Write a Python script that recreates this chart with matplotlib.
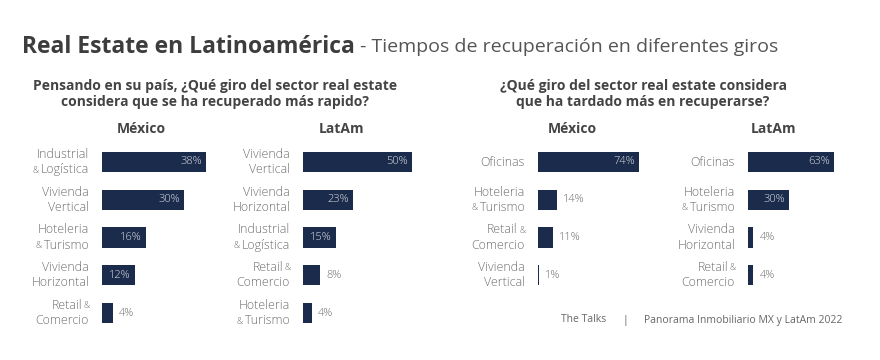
import matplotlib
matplotlib.use("Agg")
import matplotlib.pyplot as plt

plt.rcParams['font.family'] = ['Open Sans', 'DejaVu Sans']

# ---------------- data ----------------
title_main = "Real Estate en Latinoamérica"
title_sub = " - Tiempos de recuperación en diferentes giros"
q1 = "Pensando en su país, ¿Qué giro del sector real estate\nconsidera que se ha recuperado más rapido?"
q2 = "¿Qué giro del sector real estate considera\nque ha tardado más en recuperarse?"
col_mx = "México"
col_la = "LatAm"

fast_mx_labels = ["Industrial\n& Logística", "Vivienda\nVertical", "Hoteleria\n& Turismo",
                  "Vivienda\nHorizontal", "Retail &\nComercio"]
fast_mx_values = [38, 30, 16, 12, 4]

fast_la_labels = ["Vivienda\nVertical", "Vivienda\nHorizontal", "Industrial\n& Logística",
                  "Retail &\nComercio", "Hoteleria\n& Turismo"]
fast_la_values = [50, 23, 15, 8, 4]

slow_mx_labels = ["Oficinas", "Hoteleria\n& Turismo", "Retail &\nComercio", "Vivienda\nVertical"]
slow_mx_values = [74, 14, 11, 1]

slow_la_labels = ["Oficinas", "Hoteleria\n& Turismo", "Vivienda\nHorizontal", "Retail &\nComercio"]
slow_la_values = [63, 30, 4, 4]

footer_left = "The Talks"
footer_right = "Panorama Inmobiliario MX y LatAm 2022"

# ---------------- style ----------------
W, H = 880, 360
BAR = "#1b2b4b"
LABEL_C = "#6f6f6f"
IN_C = "#dde1e8"
OUT_C = "#6a6a6a"
DARK = "#444444"
LFS = 8.9
AMP_FS = 6.2

fig = plt.figure(figsize=(W / 100, H / 100), dpi=100)
fig.patch.set_facecolor("white")
renderer = fig.canvas.get_renderer()


def fx(px):
    return px / W


def fy(py):
    return 1 - py / H


ROW = 37.75
LINE = 15.5


def text_width(s, fs):
    t = fig.text(0, 0, s, fontsize=fs, fontweight="light")
    w = t.get_window_extent(renderer).width
    t.remove()
    return w


def draw_label(ax, lab, i):
    lines = lab.split("\n")
    n = len(lines)
    for k, line in enumerate(lines):
        dy = (n - 1) / 2 * LINE - k * LINE
        kw = dict(xycoords=("axes fraction", "data"), textcoords="offset pixels",
                  va="center", color=LABEL_C, fontweight="light")
        if line.startswith("& "):
            main = line[2:]
            ax.annotate(main, xy=(0, i), xytext=(-13, dy), ha="right", fontsize=LFS, **kw)
            w = text_width(main, LFS)
            ax.annotate("&", xy=(0, i), xytext=(-13 - w - 2.5, dy - 0.5), ha="right",
                        fontsize=AMP_FS, **kw)
        elif line.endswith(" &"):
            main = line[:-2]
            ax.annotate("&", xy=(0, i), xytext=(-12, dy - 0.5), ha="right",
                        fontsize=AMP_FS, **kw)
            wa = text_width("&", AMP_FS)
            ax.annotate(main, xy=(0, i), xytext=(-12 - wa - 2, dy), ha="right",
                        fontsize=LFS, **kw)
        else:
            ax.annotate(line, xy=(0, i), xytext=(-13, dy), ha="right", fontsize=LFS, **kw)


def panel(x0, px_per_unit, width_px, labels, values):
    n = len(labels)
    top = 162 - ROW / 2
    ax = fig.add_axes([fx(x0), fy(top + n * ROW), fx(width_px), n * ROW / H])
    ax.barh(range(n), values, height=0.53, color=BAR)
    ax.set_ylim(n - 0.5, -0.5)
    ax.set_xlim(0, width_px / px_per_unit)
    ax.axis("off")
    for i, (lab, v) in enumerate(zip(labels, values)):
        draw_label(ax, lab, i)
        if v * px_per_unit > 25:
            ax.annotate(f"{v}%", xy=(v, i), xytext=(-4, 0), textcoords="offset pixels",
                        ha="right", va="center", fontsize=8, color=IN_C, fontweight="light")
        else:
            ax.annotate(f"{v}%", xy=(v, i), xytext=(6, 0), textcoords="offset pixels",
                        ha="left", va="center", fontsize=8, color=OUT_C, fontweight="light")
    return ax


panel(102, 2.74, 130, fast_mx_labels, fast_mx_values)
panel(303, 2.18, 130, fast_la_labels, fast_la_values)
panel(538, 1.365, 130, slow_mx_labels, slow_mx_values)
panel(748, 1.365, 110, slow_la_labels, slow_la_values)

# titles
t = fig.text(fx(22), fy(47), title_main, fontsize=16.5, fontweight="bold",
             color="#3d3d3d", ha="left", va="center")
bb = t.get_window_extent(renderer)
fig.text(bb.x1 / W, fy(47), title_sub, fontsize=14, color="#555555",
         ha="left", va="center")

fig.text(fx(215), fy(94), q1, fontsize=10, fontweight="bold", color=DARK,
         ha="center", va="center", linespacing=1.15)
fig.text(fx(643), fy(94), q2, fontsize=10, fontweight="bold", color=DARK,
         ha="center", va="center", linespacing=1.15)

for cx in (141, 572):
    fig.text(fx(cx), fy(129), col_mx, fontsize=10, fontweight="bold", color=DARK,
             ha="center", va="center")
for cx in (342, 773):
    fig.text(fx(cx), fy(129), col_la, fontsize=10, fontweight="bold", color=DARK,
             ha="center", va="center")

fig.text(fx(561), fy(320), footer_left, fontsize=7.5, color="#666666", ha="left", va="center")
fig.text(fx(625), fy(320), "|", fontsize=7.5, color="#666666", ha="center", va="center")
fig.text(fx(644), fy(320), footer_right, fontsize=7.5, color="#666666", ha="left", va="center")

fig.savefig("out.png", dpi=100, facecolor="white")
